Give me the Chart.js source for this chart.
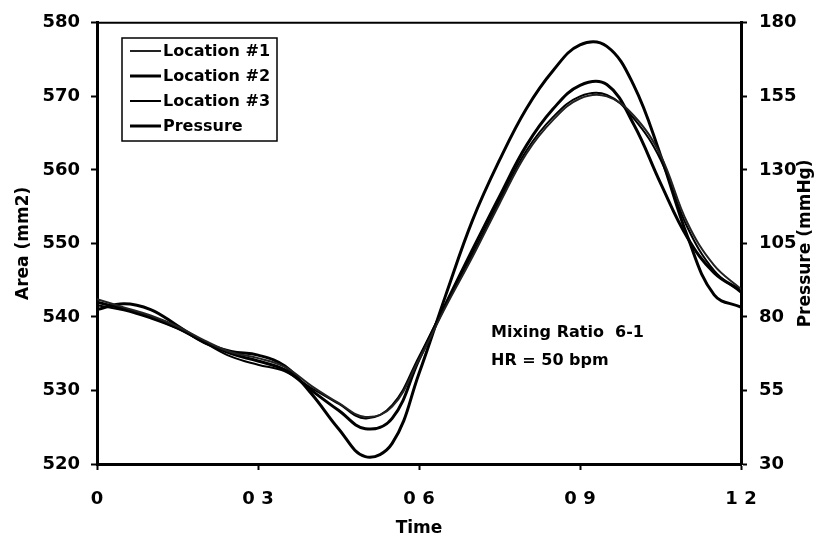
<!DOCTYPE html>
<html>
<head>
<meta charset="utf-8">
<script src="https://cdn.jsdelivr.net/npm/chart.js@4.4.1/dist/chart.umd.min.js"></script>
<style>
  body { margin: 0; background: #fff; }
</style>
</head>
<body>
<canvas id="areaChart" width="827" height="545"></canvas>
<script>
// time samples (s)
const times = [0, 0.05, 0.1, 0.15, 0.2, 0.25, 0.3, 0.35, 0.4, 0.45, 0.5, 0.55, 0.6,
    0.65, 0.7, 0.75, 0.8, 0.85, 0.9, 0.95, 1.0, 1.05, 1.1, 1.15, 1.2];

// area (mm2)
const location1 = [542.4, 541.3, 540.2, 538.7, 536.8, 535.2, 534.4, 533.2, 530.6, 528.3, 526.4, 527.8, 534.2,
    541.4, 548.2, 555.4, 562.2, 566.8, 569.7, 570.0, 567.4, 562.0, 552.8, 547.0, 543.8];
const location2 = [542.0, 541.1, 540.0, 538.5, 536.6, 535.0, 534.0, 532.8, 530.0, 527.3, 524.8, 526.2, 534.2,
    541.8, 549.2, 556.4, 563.3, 568.3, 571.5, 571.6, 566.2, 558.2, 550.8, 546.0, 543.6];
const location3 = [541.6, 540.9, 539.8, 538.4, 536.5, 534.6, 533.5, 532.6, 530.3, 528.2, 526.2, 528.0, 534.6,
    541.8, 548.6, 555.8, 562.6, 567.2, 570.0, 570.2, 567.0, 561.4, 552.2, 546.3, 543.3];
// pressure (mmHg)
const pressure = [82.5, 84.5, 82.5, 77, 71.3, 68.3, 67, 63.3, 53.8, 42, 32.5, 37, 60.8,
    87.5, 113, 133.3, 150.8, 163.8, 172.5, 172, 158.8, 135, 107.5, 87.5, 83.3];

const seriesNames = ['Location #1', 'Location #2', 'Location #3', 'Pressure'];
const xTicks = [0, 0.3, 0.6, 0.9, 1.2];
const xTickLabels = ['0', '0 3', '0 6', '0 9', '1 2'];
const noteLines = ['Mixing Ratio  6-1', 'HR = 50 bpm'];

const FONT = 'DejaVu Sans';
const toPoints = arr => arr.map((v, i) => ({ x: times[i], y: v }));

// legend box, note, right title and top frame line
const extras = {
    id: 'extras',
    afterDraw(chart) {
        const c = chart.ctx;
        const area = chart.chartArea;
        c.save();
        c.strokeStyle = '#000';
        c.lineWidth = 2;
        c.beginPath();
        c.moveTo(area.left, area.top);
        c.lineTo(area.right, area.top);
        c.stroke();

        // legend
        c.lineWidth = 1.5;
        c.strokeRect(122, 38, 155, 103);
        c.font = 'bold 16px "' + FONT + '"';
        c.fillStyle = '#000';
        c.textBaseline = 'middle';
        chart.data.datasets.forEach((ds, i) => {
            const y = 51 + i * 25;
            c.strokeStyle = ds.borderColor;
            c.lineWidth = ds.borderWidth;
            c.beginPath();
            c.moveTo(130, y);
            c.lineTo(161, y);
            c.stroke();
            c.fillText(ds.label, 163, y + 1);
        });

        // note
        noteLines.forEach((t, i) => c.fillText(t, 491, 333 + i * 28));

        // right axis title, reads bottom to top
        c.translate(806, (area.top + area.bottom) / 2);
        c.rotate(-Math.PI / 2);
        c.textAlign = 'center';
        c.font = 'bold 17px "' + FONT + '"';
        c.fillText('Pressure (mmHg)', 0, 0);
        c.restore();
    }
};

const tickFont = { family: FONT, size: 18, weight: 'bold' };
const titleFont = { family: FONT, size: 17, weight: 'bold' };

const ctx = document.getElementById('areaChart').getContext('2d');
const areaChart = new Chart(ctx, {
    type: 'line',
    data: {
        datasets: [
            { label: seriesNames[0], data: toPoints(location1), yAxisID: 'y', borderColor: '#222', borderWidth: 2 },
            { label: seriesNames[1], data: toPoints(location2), yAxisID: 'y', borderColor: '#000', borderWidth: 3 },
            { label: seriesNames[2], data: toPoints(location3), yAxisID: 'y', borderColor: '#000', borderWidth: 2 },
            { label: seriesNames[3], data: toPoints(pressure), yAxisID: 'y2', borderColor: '#000', borderWidth: 3 }
        ]
    },
    options: {
        responsive: false,
        animation: false,
        layout: { padding: { top: 18 } },
        elements: {
            point: { radius: 0 },
            line: { tension: 0.4, fill: false, borderCapStyle: 'round', borderJoinStyle: 'round' }
        },
        plugins: {
            legend: { display: false },
            tooltip: { enabled: false }
        },
        scales: {
            x: {
                type: 'linear',
                min: 0,
                max: 1.2,
                afterBuildTicks: s => { s.ticks = xTicks.map(v => ({ value: v })); },
                afterFit: s => { s.height = 81; },
                grid: { drawOnChartArea: false, tickLength: 6, tickColor: '#000', tickWidth: 2 },
                border: { color: '#000', width: 3 },
                ticks: {
                    padding: 19,
                    color: '#000',
                    font: tickFont,
                    maxRotation: 0,
                    callback: (v, i) => xTickLabels[i]
                },
                title: { display: true, text: 'Time', color: '#000', font: titleFont, padding: { top: 0, bottom: 6 } }
            },
            y: {
                position: 'left',
                min: 520,
                max: 580,
                afterFit: s => { s.width = 97; },
                grid: { drawOnChartArea: false, tickLength: 6, tickColor: '#000', tickWidth: 2 },
                border: { color: '#000', width: 3 },
                ticks: { stepSize: 10, padding: 11, color: '#000', font: tickFont },
                title: { display: true, text: 'Area (mm2)', color: '#000', font: titleFont, padding: { top: 13, bottom: 0 } }
            },
            y2: {
                position: 'right',
                min: 30,
                max: 180,
                afterFit: s => { s.width = 86; },
                grid: { drawOnChartArea: false, tickLength: 6, tickColor: '#000', tickWidth: 2 },
                border: { color: '#000', width: 3 },
                ticks: { stepSize: 25, padding: 12, color: '#000', font: tickFont }
            }
        }
    },
    plugins: [extras]
});
</script>
</body>
</html>
